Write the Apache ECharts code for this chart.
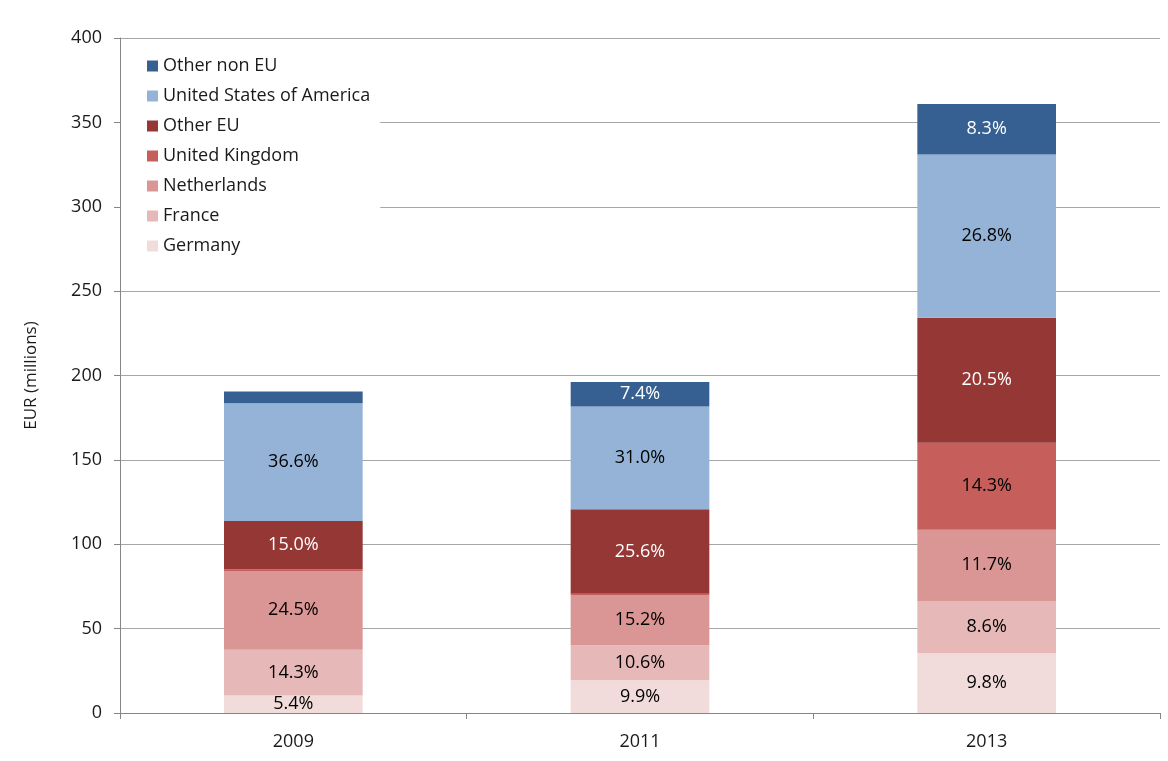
<!DOCTYPE html>
<html>
<head>
<meta charset="utf-8">
<script src="https://cdn.jsdelivr.net/npm/echarts@6/dist/echarts.min.js"></script>
<style>html,body{margin:0;padding:0;background:#fff;}#c{width:1168px;height:761px;}</style>
</head>
<body>
<div id="c"></div>
<script>
const years = ['2009', '2011', '2013'];
const seriesNames = ['Germany', 'France', 'Netherlands', 'United Kingdom', 'Other EU', 'United States of America', 'Other non EU'];
const germany = [10.3, 19.4, 35.4];
const france = [27.2, 20.8, 31.0];
const netherlands = [46.7, 29.8, 42.2];
const unitedKingdom = [1.0, 0.6, 51.6];
const otherEU = [28.6, 50.2, 74.0];
const usa = [69.7, 60.8, 96.7];
const otherNonEU = [7.0, 14.5, 30.0];
const pctGermany = ['5.4%', '9.9%', '9.8%'];
const pctFrance = ['14.3%', '10.6%', '8.6%'];
const pctNetherlands = ['24.5%', '15.2%', '11.7%'];
const pctUK = ['', '', '14.3%'];
const pctOtherEU = ['15.0%', '25.6%', '20.5%'];
const pctUSA = ['36.6%', '31.0%', '26.8%'];
const pctOtherNonEU = ['', '7.4%', '8.3%'];
const yTicks = [0, 50, 100, 150, 200, 250, 300, 350, 400];

const values = [germany, france, netherlands, unitedKingdom, otherEU, usa, otherNonEU];
const pcts = [pctGermany, pctFrance, pctNetherlands, pctUK, pctOtherEU, pctUSA, pctOtherNonEU];
const colors = ['#F2DCDB', '#E6B9B8', '#D99694', '#C65F5C', '#953735', '#95B3D7', '#366092'];
const labelColors = ['#000', '#000', '#000', '#000', '#fff', '#000', '#fff'];
const FONT = 'Open Sans';

const chart = echarts.init(document.getElementById('c'), null, {renderer: 'canvas'});
chart.setOption({
  animation: false,
  textStyle: {fontFamily: FONT},
  grid: {left: 120, right: 8, top: 38, bottom: 48, containLabel: false},
  legend: {
    orient: 'vertical',
    left: 121, top: 48,
    padding: [8, 10, 8, 26],
    backgroundColor: '#fff',
    itemWidth: 11, itemHeight: 11,
    itemGap: 10,
    icon: 'rect',
    data: seriesNames.slice().reverse(),
    textStyle: {fontFamily: FONT, fontSize: 18, color: '#1a1a1a', lineHeight: 20},
    z: 10
  },
  xAxis: {
    type: 'category',
    data: years,
    axisLine: {lineStyle: {color: '#868686'}},
    axisTick: {show: true, length: 6, lineStyle: {color: '#868686'}},
    axisLabel: {fontFamily: FONT, fontSize: 18, color: '#1a1a1a', margin: 20}
  },
  yAxis: {
    type: 'value',
    min: yTicks[0], max: yTicks[yTicks.length - 1], interval: 50,
    name: 'EUR (millions)',
    nameLocation: 'middle',
    nameGap: 80,
    nameTextStyle: {fontFamily: FONT, fontSize: 17, color: '#1a1a1a'},
    axisLine: {show: true, lineStyle: {color: '#868686'}},
    axisTick: {show: true, length: 6, lineStyle: {color: '#868686'}},
    axisLabel: {fontFamily: FONT, fontSize: 18, color: '#1a1a1a', margin: 18},
    splitLine: {lineStyle: {color: '#A6A6A6'}}
  },
  series: seriesNames.map((name, i) => ({
    name: name,
    type: 'bar',
    stack: 'total',
    barWidth: '40%',
    data: values[i],
    itemStyle: {color: colors[i]},
    label: {
      show: true,
      position: 'inside',
      fontFamily: FONT,
      fontSize: 18,
      color: labelColors[i],
      formatter: p => pcts[i][p.dataIndex]
    }
  }))
});
</script>
</body>
</html>
